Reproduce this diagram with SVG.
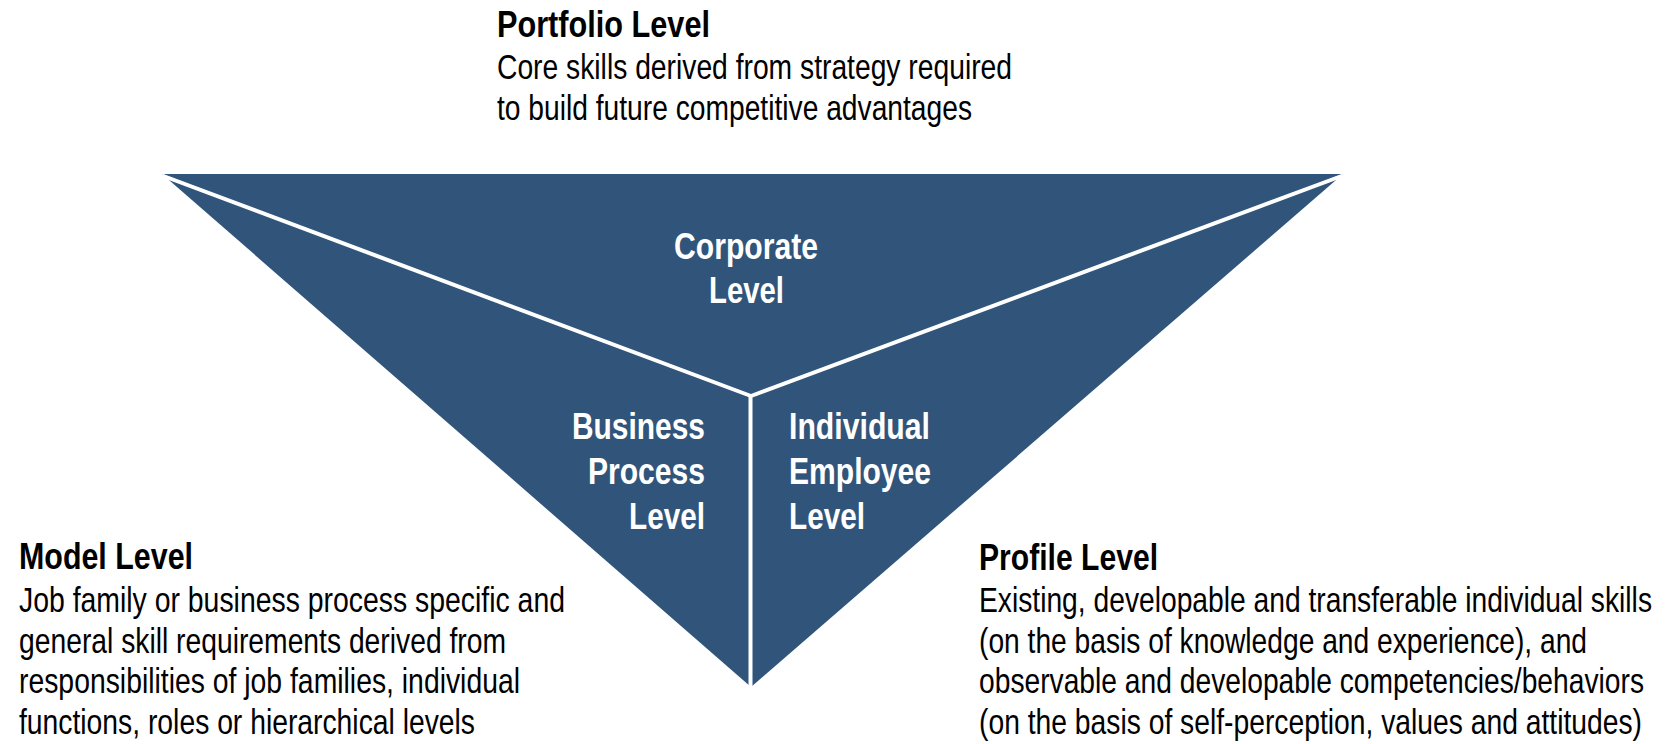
<svg xmlns="http://www.w3.org/2000/svg" width="1668" height="744" viewBox="0 0 1668 744">
  <style>
    .region { fill: #31557A; stroke: none; }
    .divider { stroke: #FFFFFF; stroke-width: 4; fill: none; stroke-linecap: butt; }
    .lbl { font-family: "Liberation Sans Narrow", "Liberation Sans", Arial, sans-serif; font-weight: bold; font-size: 36px; fill: #FFFFFF; }
    .hdr { font-family: "Liberation Sans Narrow", "Liberation Sans", Arial, sans-serif; font-weight: bold; font-size: 37px; fill: #000000; }
    .body { font-family: "Liberation Sans Narrow", "Liberation Sans", Arial, sans-serif; font-size: 35px; fill: #000000; }
  </style>
  <rect x="0" y="0" width="1668" height="744" fill="#FFFFFF"/>

  <g id="corporate-level">
    <polygon class="region" points="162,174 1343,174 751,396"/>
    <text class="lbl" x="746" y="259" text-anchor="middle" textLength="144" lengthAdjust="spacingAndGlyphs">Corporate</text>
    <text class="lbl" x="746.5" y="303" text-anchor="middle" textLength="75" lengthAdjust="spacingAndGlyphs">Level</text>
  </g>

  <g id="business-process-level">
    <polygon class="region" points="162,174 751,396 751,687"/>
    <text class="lbl" x="705" y="439" text-anchor="end" textLength="133" lengthAdjust="spacingAndGlyphs">Business</text>
    <text class="lbl" x="705" y="484" text-anchor="end" textLength="117" lengthAdjust="spacingAndGlyphs">Process</text>
    <text class="lbl" x="705" y="529" text-anchor="end" textLength="76" lengthAdjust="spacingAndGlyphs">Level</text>
  </g>

  <g id="individual-employee-level">
    <polygon class="region" points="1343,174 751,396 751,687"/>
    <text class="lbl" x="789" y="439" textLength="141" lengthAdjust="spacingAndGlyphs">Individual</text>
    <text class="lbl" x="789" y="484" textLength="142" lengthAdjust="spacingAndGlyphs">Employee</text>
    <text class="lbl" x="789" y="529" textLength="76" lengthAdjust="spacingAndGlyphs">Level</text>
  </g>

  <g id="connectors">
    <line class="divider" x1="162" y1="175.5" x2="751" y2="396"/>
    <line class="divider" x1="1343" y1="175.5" x2="751" y2="396"/>
    <line class="divider" x1="750.5" y1="395" x2="750.5" y2="688"/>
  </g>

  <g id="portfolio-level">
    <text class="hdr" x="497" y="37" textLength="213" lengthAdjust="spacingAndGlyphs">Portfolio Level</text>
    <text class="body" x="497" y="79" textLength="515" lengthAdjust="spacingAndGlyphs">Core skills derived from strategy required</text>
    <text class="body" x="497" y="120" textLength="475" lengthAdjust="spacingAndGlyphs">to build future competitive advantages</text>
  </g>

  <g id="model-level">
    <text class="hdr" x="19" y="569" textLength="174" lengthAdjust="spacingAndGlyphs">Model Level</text>
    <text class="body" x="19" y="612" textLength="546" lengthAdjust="spacingAndGlyphs">Job family or business process specific and</text>
    <text class="body" x="19" y="653" textLength="487" lengthAdjust="spacingAndGlyphs">general skill requirements derived from</text>
    <text class="body" x="19" y="693" textLength="501" lengthAdjust="spacingAndGlyphs">responsibilities of job families, individual</text>
    <text class="body" x="19" y="734" textLength="456" lengthAdjust="spacingAndGlyphs">functions, roles or hierarchical levels</text>
  </g>

  <g id="profile-level">
    <text class="hdr" x="979" y="570" textLength="179" lengthAdjust="spacingAndGlyphs">Profile Level</text>
    <text class="body" x="979" y="612" textLength="673" lengthAdjust="spacingAndGlyphs">Existing, developable and transferable individual skills</text>
    <text class="body" x="979" y="653" textLength="608" lengthAdjust="spacingAndGlyphs">(on the basis of knowledge and experience), and</text>
    <text class="body" x="979" y="693" textLength="665" lengthAdjust="spacingAndGlyphs">observable and developable competencies/behaviors</text>
    <text class="body" x="979" y="734" textLength="663" lengthAdjust="spacingAndGlyphs">(on the basis of self-perception, values and attitudes)</text>
  </g>
</svg>
